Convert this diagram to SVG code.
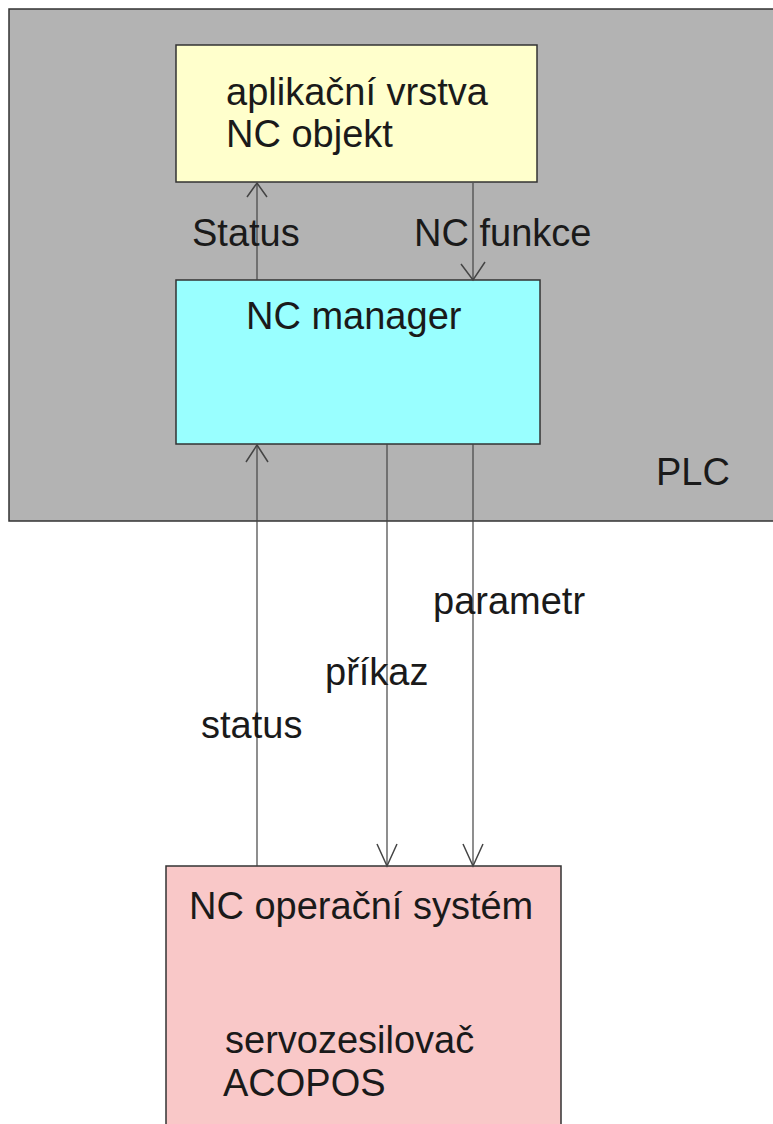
<svg xmlns="http://www.w3.org/2000/svg" width="773" height="1124" viewBox="0 0 773 1124">
  <style>
    .box { stroke: #333333; stroke-width: 1.5; }
    .lbl { font-family: "Liberation Sans", Arial, sans-serif; font-size: 38px; fill: #1a1a1a; }
    .wire { stroke: #444444; stroke-width: 1.2; fill: none; }
    .head { stroke: #444444; stroke-width: 1.5; fill: none; }
  </style>

  <rect x="0" y="0" width="773" height="1124" fill="#ffffff"/>

  <!-- PLC enclosure -->
  <g id="plc">
    <rect class="box" x="9" y="9" width="780" height="512" fill="#b3b3b3"/>
    <text class="lbl" x="656" y="485">PLC</text>
  </g>

  <!-- application layer -->
  <g id="app-layer">
    <rect class="box" x="176" y="45" width="361" height="137" fill="#ffffcc"/>
    <text class="lbl" x="226" y="105">aplikační vrstva</text>
    <text class="lbl" x="226" y="147">NC objekt</text>
  </g>

  <!-- NC manager -->
  <g id="nc-manager">
    <rect class="box" x="176" y="280" width="364" height="164" fill="#99ffff"/>
    <text class="lbl" x="246" y="329">NC manager</text>
  </g>

  <!-- NC operating system / servo drive -->
  <g id="nc-os">
    <rect class="box" x="166" y="866" width="395" height="280" fill="#f9c8c8"/>
    <text class="lbl" x="189" y="919">NC operační systém</text>
    <text class="lbl" x="225" y="1053">servozesilovač</text>
    <text class="lbl" x="223" y="1096">ACOPOS</text>
  </g>

  <!-- connectors -->
  <g id="connectors">
    <!-- Status: manager -> application -->
    <line class="wire" x1="257" y1="280" x2="257" y2="183"/>
    <polyline class="head" points="247,197 257,183 267,197"/>
    <!-- NC funkce: application -> manager -->
    <line class="wire" x1="473" y1="183" x2="473" y2="280"/>
    <polyline class="head" points="461,264 473,280 485,262"/>
    <!-- status: OS -> manager -->
    <line class="wire" x1="257" y1="866" x2="257" y2="445"/>
    <polyline class="head" points="246,462 257,445 268,462"/>
    <!-- příkaz: manager -> OS -->
    <line class="wire" x1="387" y1="444" x2="387" y2="866"/>
    <polyline class="head" points="377,844 387,866 397,844"/>
    <!-- parametr: manager -> OS -->
    <line class="wire" x1="473" y1="444" x2="473" y2="866"/>
    <polyline class="head" points="463,844 473,866 483,844"/>

    <text class="lbl" x="192" y="246">Status</text>
    <text class="lbl" x="414" y="246">NC funkce</text>
    <text class="lbl" x="433" y="614">parametr</text>
    <text class="lbl" x="325" y="685">příkaz</text>
    <text class="lbl" x="201" y="738">status</text>
  </g>
</svg>
